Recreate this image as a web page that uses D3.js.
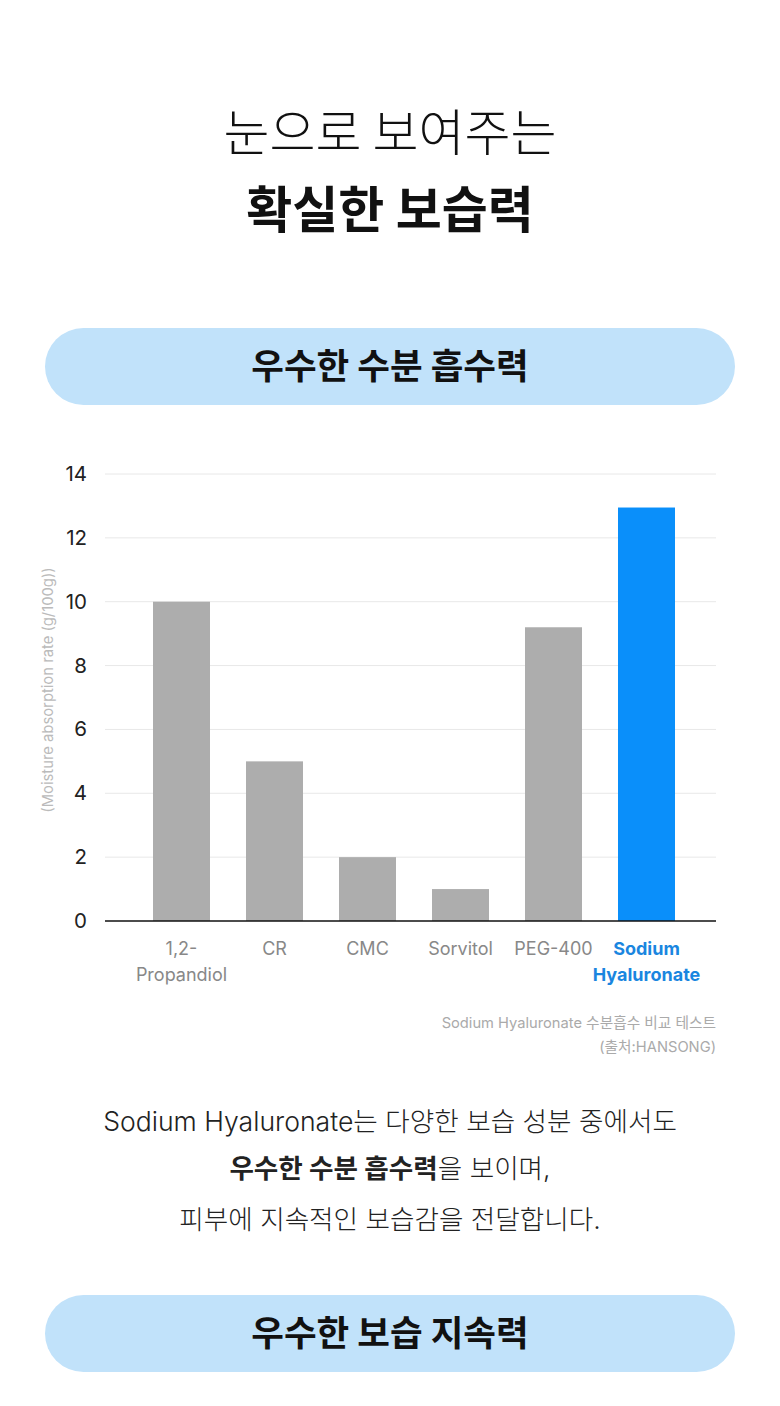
<!DOCTYPE html>
<html>
<head>
<meta charset="utf-8">
<script src="https://cdn.jsdelivr.net/npm/d3@7"></script>
<style>
  body { margin: 0; background: #fff; }
  svg { display: block; font-family: "Inter", "Noto Sans CJK KR", sans-serif; }
</style>
</head>
<body>
<svg id="page" width="780" height="1406"></svg>
<script>
// data
const categories = ["1,2-\nPropandiol", "CR", "CMC", "Sorvitol", "PEG-400", "Sodium\nHyaluronate"]
const values = [10, 5, 2, 1, 9.2, 12.95]
const yTicks = [0, 2, 4, 6, 8, 10, 12, 14]
const highlight = "Sodium\nHyaluronate"

const svg = d3.select("#page")
const kr = "'Noto Sans CJK KR', sans-serif"

// title
svg.append("text").attr("x", 390).attr("y", 151).attr("text-anchor", "middle")
  .style("font-family", kr).style("font-size", "50px").style("font-weight", 300).attr("fill", "#111")
  .text("눈으로 보여주는")
svg.append("text").attr("x", 390).attr("y", 228).attr("text-anchor", "middle")
  .style("font-family", kr).style("font-size", "50px").style("font-weight", 700).attr("fill", "#111")
  .text("확실한 보습력")

// pill headers
function pill(y, label) {
  svg.append("rect").attr("x", 45).attr("y", y).attr("width", 690).attr("height", 77)
    .attr("rx", 38.5).attr("fill", "#c1e2fa")
  svg.append("text").attr("x", 390).attr("y", y + 51).attr("text-anchor", "middle")
    .style("font-family", kr).style("font-size", "35.5px").style("font-weight", 700).attr("fill", "#111")
    .text(label)
}
pill(328, "우수한 수분 흡수력")
pill(1295, "우수한 보습 지속력")

// chart
const x = d3.scaleBand().domain(categories).range([135, 693]).paddingInner(0.387).paddingOuter(0.1935)
const y = d3.scaleLinear().domain([0, 14]).range([921, 474])

const grid = svg.append("g")
grid.selectAll("line").data(yTicks.slice(1)).join("line")
  .attr("x1", 105).attr("x2", 716)
  .attr("y1", d => y(d)).attr("y2", d => y(d))
  .attr("stroke", "#e8e8e8").attr("stroke-width", 1)

const yAxis = svg.append("g").attr("transform", "translate(105,0)")
  .call(d3.axisLeft(y).tickValues(yTicks).tickSize(0).tickPadding(18))
yAxis.select(".domain").remove()
yAxis.selectAll("text").style("font-family", "Inter, sans-serif").style("font-size", "20.5px").attr("fill", "#222")

svg.selectAll("rect.bar").data(values).join("rect").attr("class", "bar")
  .attr("x", (d, i) => x(categories[i]))
  .attr("width", x.bandwidth())
  .attr("y", d => y(d))
  .attr("height", d => y(0) - y(d))
  .attr("fill", (d, i) => categories[i] === highlight ? "#0a8ffa" : "#adadad")

svg.append("line").attr("x1", 105).attr("x2", 716).attr("y1", y(0)).attr("y2", y(0))
  .attr("stroke", "#111").attr("stroke-width", 1.5)

// x labels
categories.forEach(c => {
  const hl = c === highlight
  const t = svg.append("text").attr("text-anchor", "middle")
    .attr("x", x(c) + x.bandwidth() / 2).attr("y", 955)
    .style("font-size", "18px").style("font-weight", hl ? 700 : 400)
    .attr("fill", hl ? "#1a86e0" : "#888")
  c.split("\n").forEach((s, i) => {
    t.append("tspan").attr("x", x(c) + x.bandwidth() / 2).attr("dy", i ? 26 : 0).text(s)
  })
})

// y label
svg.append("text").attr("transform", "translate(53,690) rotate(-90)").attr("text-anchor", "middle")
  .style("font-size", "14.8px").attr("fill", "#bbb")
  .text("(Moisture absorption rate (g/100g))")

// source
svg.append("text").attr("x", 716).attr("y", 1028).attr("text-anchor", "end")
  .style("font-size", "14.7px").attr("fill", "#aaa")
  .text("Sodium Hyaluronate 수분흡수 비교 테스트")
svg.append("text").attr("x", 716).attr("y", 1052).attr("text-anchor", "end")
  .style("font-size", "14.7px").attr("fill", "#aaa")
  .text("(출처:HANSONG)")

// paragraph
const para = svg.append("g").style("font-size", "26.6px").attr("fill", "#222")
para.append("text").attr("x", 390).attr("y", 1131).attr("text-anchor", "middle").style("font-weight", 300)
  .text("Sodium Hyaluronate는 다양한 보습 성분 중에서도")
const l2 = para.append("text").attr("x", 390).attr("y", 1178).attr("text-anchor", "middle")
l2.append("tspan").style("font-weight", 700).text("우수한 수분 흡수력")
l2.append("tspan").style("font-weight", 300).text("을 보이며,")
para.append("text").attr("x", 390).attr("y", 1229).attr("text-anchor", "middle").style("font-weight", 300)
  .text("피부에 지속적인 보습감을 전달합니다.")
</script>
</body>
</html>
